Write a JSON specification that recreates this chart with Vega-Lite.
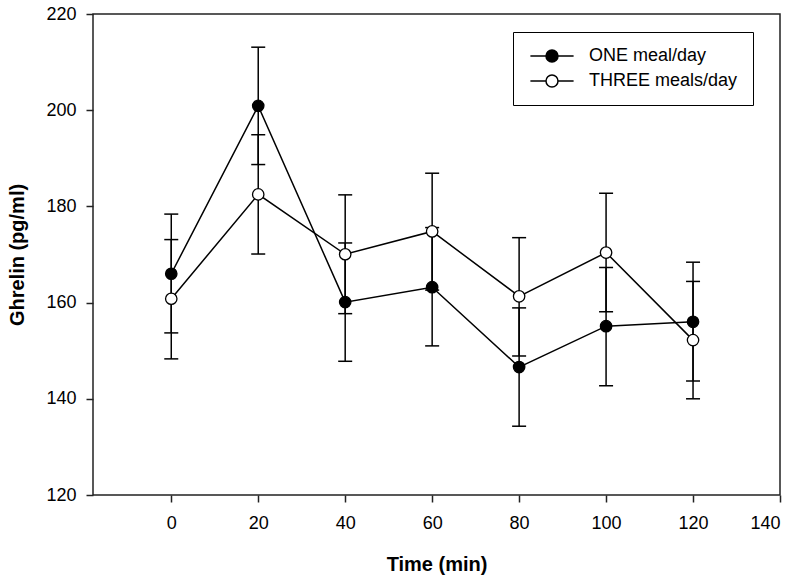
{
  "$schema": "https://vega.github.io/schema/vega-lite/v6.json",
  "width": 687,
  "height": 481,
  "autosize": "none",
  "padding": {"left": 93, "top": 14, "right": 20, "bottom": 84},
  "background": "white",
  "data": {
    "values": [
      {"t": 0, "series": "ONE meal/day", "mean": 166.0, "lo": 153.7, "hi": 178.4},
      {"t": 20, "series": "ONE meal/day", "mean": 200.9, "lo": 188.7, "hi": 213.1},
      {"t": 40, "series": "ONE meal/day", "mean": 160.1, "lo": 147.8, "hi": 172.4},
      {"t": 60, "series": "ONE meal/day", "mean": 163.2, "lo": 151.0, "hi": 175.6},
      {"t": 80, "series": "ONE meal/day", "mean": 146.6, "lo": 134.3, "hi": 158.9},
      {"t": 100, "series": "ONE meal/day", "mean": 155.1, "lo": 142.7, "hi": 167.3},
      {"t": 120, "series": "ONE meal/day", "mean": 156.0, "lo": 143.7, "hi": 168.4},
      {"t": 0, "series": "THREE meals/day", "mean": 160.8, "lo": 148.3, "hi": 173.1},
      {"t": 20, "series": "THREE meals/day", "mean": 182.5, "lo": 170.1, "hi": 194.9},
      {"t": 40, "series": "THREE meals/day", "mean": 170.05, "lo": 157.7, "hi": 182.4},
      {"t": 60, "series": "THREE meals/day", "mean": 174.8, "lo": 162.6, "hi": 186.9},
      {"t": 80, "series": "THREE meals/day", "mean": 161.3, "lo": 148.9, "hi": 173.5},
      {"t": 100, "series": "THREE meals/day", "mean": 170.4, "lo": 158.1, "hi": 182.75},
      {"t": 120, "series": "THREE meals/day", "mean": 152.2, "lo": 140.0, "hi": 164.4}
    ]
  },
  "encoding": {
    "x": {
      "field": "t", "type": "quantitative",
      "scale": {"domain": [-18, 140], "nice": false, "zero": false},
      "axis": {"title": "Time (min)", "values": [0, 20, 40, 60, 80, 100, 120, 140], "grid": false, "domain": false,
               "tickSize": 7, "labelPadding": 12, "titlePadding": 22}
    }
  },
  "layer": [
    {
      "mark": {"type": "rule", "color": "black", "strokeWidth": 1.5},
      "encoding": {
        "y": {"field": "lo", "type": "quantitative"},
        "y2": {"field": "hi"},
        "detail": {"field": "series"}
      }
    },
    {
      "mark": {"type": "tick", "orient": "horizontal", "size": 14, "thickness": 1.5, "color": "black", "opacity": 1},
      "encoding": {"y": {"field": "lo", "type": "quantitative"}, "detail": {"field": "series"}}
    },
    {
      "mark": {"type": "tick", "orient": "horizontal", "size": 14, "thickness": 1.5, "color": "black", "opacity": 1},
      "encoding": {"y": {"field": "hi", "type": "quantitative"}, "detail": {"field": "series"}}
    },
    {
      "mark": {"type": "line", "color": "black", "strokeWidth": 1.5},
      "encoding": {
        "y": {"field": "mean", "type": "quantitative"},
        "detail": {"field": "series"}
      }
    },
    {
      "mark": {"type": "point", "shape": "circle", "size": 130, "stroke": "black", "strokeWidth": 1.3, "filled": false, "opacity": 1, "fillOpacity": 1, "strokeOpacity": 1},
      "encoding": {
        "y": {
          "field": "mean", "type": "quantitative",
          "scale": {"domain": [120, 220], "nice": false, "zero": false},
          "axis": {"title": "Ghrelin (pg/ml)", "values": [120, 140, 160, 180, 200, 220], "grid": false, "domain": false,
                   "tickSize": 7, "labelPadding": 10, "titlePadding": 18}
        },
        "fill": {
          "field": "series", "type": "nominal",
          "scale": {"domain": ["ONE meal/day", "THREE meals/day"], "range": ["black", "white"]},
          "legend": {
            "title": null,
            "orient": "none",
            "legendX": 420,
            "legendY": 18,
            "strokeColor": "black",
            "fillColor": "white",
            "padding": 15,
            "symbolOffset": 15,
            "labelOffset": 28,
            "rowPadding": 7,
            "symbolType": "M-3.6,0H-1M1,0H3.6M-1,0A1,1 0 1,0 1,0A1,1 0 1,0 -1,0Z",
            "symbolSize": 144,
            "symbolStrokeColor": "black",
            "symbolStrokeWidth": 1.5,
            "symbolOpacity": 1,
            "labelFont": "Liberation Sans",
            "labelFontSize": 18,
            "labelColor": "black"
          }
        }
      }
    }
  ],
  "config": {
    "view": {"stroke": "#222", "strokeWidth": 1.5},
    "axis": {
      "labelFont": "Liberation Sans", "labelFontSize": 18, "labelColor": "black",
      "titleFont": "Liberation Sans", "titleFontSize": 20, "titleFontWeight": "bold", "titleColor": "black",
      "tickColor": "#222", "tickWidth": 1.5
    }
  }
}
